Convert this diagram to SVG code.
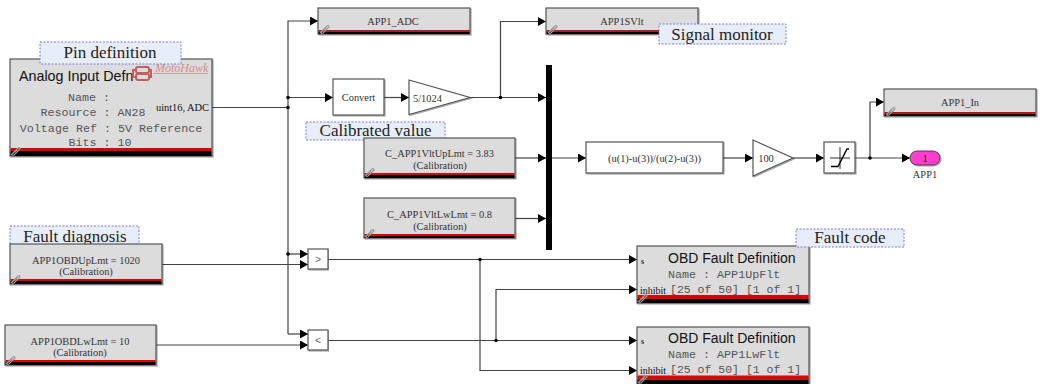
<svg xmlns="http://www.w3.org/2000/svg" width="1042" height="384" viewBox="0 0 1042 384">
<style>
.w{fill:#fff;stroke:#555;stroke-width:1.2;filter:url(#sh)}
.g{fill:#dcdcdc;stroke:#555;stroke-width:1.2;filter:url(#sh)}
.r{fill:#e00000}.k{fill:#000}
.lab{fill:#e8eef9;stroke:#7a7aee;stroke-width:1;stroke-dasharray:2 1.5}
.t{font-family:"Liberation Serif",serif;fill:#333;font-size:10.400px;text-anchor:middle}
.n{font-family:"Liberation Serif",serif;fill:#222;font-size:17px;text-anchor:middle}
.m{font-family:"Liberation Mono",monospace;fill:#555;font-size:11.700px;text-anchor:middle}
.s{font-family:"Liberation Sans",sans-serif;fill:#111}
.ln{fill:none;stroke:#444;stroke-width:1.200;marker-end:url(#a)}
.pl{fill:none;stroke:#444;stroke-width:1.200}
.d{fill:#000}
.clip{fill:none;stroke:#999;stroke-width:1.200}
</style>
<defs>
<filter id="sh" x="-5%" y="-10%" width="110%" height="125%"><feDropShadow dx="1" dy="1" stdDeviation="0.7" flood-color="#000" flood-opacity="0.35"/></filter>
<marker id="a" markerUnits="userSpaceOnUse" markerWidth="9" markerHeight="10" refX="8" refY="4.5" orient="auto"><path d="M0 0L8 4.5L0 9Z" fill="#000"/></marker>
<g id="clip"><path class="clip" d="M1 9L8 2Q10 1 10 3L4 9Q2 10 2 8L7 4"/></g>
</defs>

<g id="connectors">
<path class="pl" d="M212 107.500H288"/>
<path class="ln" d="M288 334V21H318"/>
<path class="ln" d="M288 97.500H333"/>
<path class="ln" d="M288 254H308"/>
<path class="ln" d="M288 334H308"/>
<path class="ln" d="M162 264.500H308"/>
<path class="ln" d="M156 345H308"/>
<path class="ln" d="M384 97.500H409"/>
<path class="ln" d="M470 97.500H546"/>
<path class="ln" d="M500.500 97.500V21.500H546"/>
<path class="ln" d="M515 158H546"/>
<path class="ln" d="M515 218.500H546"/>
<path class="ln" d="M551 158H586"/>
<path class="ln" d="M723 158H753"/>
<path class="ln" d="M793 158H824"/>
<path class="ln" d="M855 158H910"/>
<path class="ln" d="M870 158V102H884"/>
<path class="ln" d="M328 259.500H637"/>
<path class="ln" d="M328 340.500H637"/>
<path class="ln" d="M496 340.500V289.500H637"/>
<path class="ln" d="M480 259.500V370.500H637"/>
<circle class="d" cx="288" cy="97.500" r="1.800"/>
<circle class="d" cx="288" cy="107.500" r="1.800"/>
<circle class="d" cx="288" cy="254" r="1.800"/>
<circle class="d" cx="500.500" cy="97.500" r="1.800"/>
<circle class="d" cx="870" cy="158" r="1.800"/>
<circle class="d" cx="480" cy="259.500" r="1.800"/>
<circle class="d" cx="496" cy="340.500" r="1.800"/>
</g>

<g id="analog-input">
<rect class="g" x="10" y="59" width="202" height="97"/>
<rect class="r" x="10.500" y="148" width="201" height="3"/><rect class="k" x="10.500" y="151" width="201" height="5"/>
<use href="#clip" x="10" y="146"/>
<text class="s" x="19" y="81" font-size="14.300">Analog Input Defn</text>
<g fill="none" stroke="#c06060" stroke-width="2"><rect x="136" y="67" width="13" height="6" rx="2"/><rect x="136" y="74" width="13" height="6" rx="2"/><path d="M136 70h-3v7h3M149 70h2v7h-2"/></g>
<text x="155" y="72" font-family="Liberation Serif,serif" font-style="italic" font-size="12" fill="#d09090">MotoHawk</text>
<path d="M153 73.500H208" stroke="#d09090" stroke-width="0.800"/>
<text class="m" x="89" y="101">Name :</text>
<text class="m" x="93" y="116">Resource : AN28</text>
<text class="m" x="111" y="131.500">Voltage Ref : 5V Reference</text>
<text class="m" x="100" y="146">Bits : 10</text>
<text class="t" x="182.500" y="111" style="fill:#111">uint16, ADC</text>
</g>

<g id="note-pin"><rect class="lab" x="40" y="42" width="141" height="22"/><text class="n" x="110" y="58">Pin definition</text></g>

<g id="app1-adc">
<rect class="g" x="318" y="8" width="152" height="26"/>
<rect class="r" x="318.500" y="30" width="151" height="1.500"/><rect class="k" x="318.500" y="31.500" width="151" height="2.500"/>
<use href="#clip" x="319" y="24"/>
<text class="t" x="393" y="25">APP1_ADC</text>
</g>

<g id="app1-svlt">
<rect class="g" x="546" y="8" width="152" height="26"/>
<rect class="r" x="546.500" y="30" width="151" height="1.500"/><rect class="k" x="546.500" y="31.500" width="151" height="2.500"/>
<use href="#clip" x="547" y="24"/>
<text class="t" x="622" y="25">APP1SVlt</text>
</g>
<g id="note-monitor"><rect class="lab" x="659" y="24" width="127" height="20"/><text class="n" x="722" y="39.500">Signal monitor</text></g>

<g id="convert"><rect class="w" x="333" y="79" width="51" height="36"/><text class="t" x="358.500" y="101">Convert</text></g>
<g id="gain-5-1024"><path class="w" d="M409 80L470 97.500L409 114.500Z"/><text class="t" x="413" y="101.500" style="text-anchor:start">5/1024</text></g>
<g id="mux"><rect class="k" x="546" y="65" width="6" height="185"/></g>

<g id="note-calibrated"><rect class="lab" x="306" y="122" width="139" height="18"/><text class="n" x="375.500" y="136">Calibrated value</text></g>

<g id="cal-up">
<rect class="g" x="364" y="138" width="151" height="40"/>
<rect class="r" x="364.500" y="173" width="150" height="2"/><rect class="k" x="364.500" y="175" width="150" height="3"/>
<use href="#clip" x="364" y="167"/>
<text class="t" x="439.500" y="157">C_APP1VltUpLmt = 3.83</text>
<text class="t" x="440" y="169">(Calibration)</text>
</g>
<g id="cal-low">
<rect class="g" x="364" y="198" width="151" height="40"/>
<rect class="r" x="364.500" y="234" width="150" height="2"/><rect class="k" x="364.500" y="236" width="150" height="2"/>
<use href="#clip" x="364" y="228"/>
<text class="t" x="439.500" y="218">C_APP1VltLwLmt = 0.8</text>
<text class="t" x="440" y="230">(Calibration)</text>
</g>

<g id="fcn"><rect class="w" x="586" y="142" width="137" height="31"/><text class="t" x="654.500" y="162">(u(1)-u(3))/(u(2)-u(3))</text></g>
<g id="gain-100"><path class="w" d="M753 140L793 158L753 176Z"/><text class="t" x="766" y="162">100</text></g>
<g id="saturation"><rect class="w" x="824" y="142" width="31" height="31"/><path d="M830 158H850M840 147V169" fill="none" stroke="#000" stroke-width="0.800"/><path d="M831 166.500H838L847 149H849" fill="none" stroke="#000" stroke-width="1.400"/></g>

<g id="app1-in">
<rect class="g" x="884" y="89" width="152" height="27"/>
<rect class="r" x="884.500" y="112" width="151" height="1.500"/><rect class="k" x="884.500" y="113.500" width="151" height="2.500"/>
<use href="#clip" x="885" y="106"/>
<text class="t" x="960" y="106">APP1_In</text>
</g>

<g id="outport-app1">
<rect x="910" y="151" width="30" height="14" rx="7" fill="#ff3ccf" stroke="#444" stroke-width="1" filter="url(#sh)"/>
<text class="t" x="925" y="162" style="fill:#222">1</text>
<text class="t" x="925" y="178">APP1</text>
</g>

<g id="note-fault"><rect class="lab" x="10" y="226" width="129" height="20"/><text class="n" x="75" y="241.500">Fault diagnosis</text></g>
<g id="obd-up-lmt">
<rect class="g" x="10" y="244" width="152" height="40"/>
<rect class="r" x="10.500" y="279" width="151" height="2"/><rect class="k" x="10.500" y="281" width="151" height="3"/>
<use href="#clip" x="10" y="274"/>
<text class="t" x="86" y="264">APP1OBDUpLmt = 1020</text>
<text class="t" x="86" y="275">(Calibration)</text>
</g>
<g id="obd-low-lmt">
<rect class="g" x="5" y="325" width="151" height="40"/>
<rect class="r" x="5.500" y="360" width="150" height="2"/><rect class="k" x="5.500" y="362" width="150" height="3"/>
<use href="#clip" x="5" y="355"/>
<text class="t" x="80" y="345">APP1OBDLwLmt = 10</text>
<text class="t" x="80" y="356">(Calibration)</text>
</g>

<g id="cmp-gt"><rect class="w" x="308" y="249" width="20" height="20"/><text class="t" x="318" y="263" style="font-family:'Liberation Sans',sans-serif;fill:#666">&gt;</text></g>
<g id="cmp-lt"><rect class="w" x="308" y="330" width="20" height="20"/><text class="t" x="318" y="344" style="font-family:'Liberation Sans',sans-serif;fill:#666">&lt;</text></g>

<g id="fault-up">
<rect class="g" x="637" y="246" width="172" height="57"/>
<rect class="r" x="637.500" y="295" width="171" height="4"/><rect class="k" x="637.500" y="299" width="171" height="4"/>
<use href="#clip" x="637" y="293"/>
<text class="t" x="641" y="264" style="font-size:8px;text-anchor:start;font-weight:bold">s</text>
<text class="t" x="640" y="294" style="text-anchor:start;font-size:10px;fill:#111">inhibit</text>
<text class="s" x="668" y="263" font-size="14">OBD Fault Definition</text>
<text class="m" x="668" y="278" style="text-anchor:start">Name : APP1UpFlt</text>
<text class="m" x="670" y="293" style="text-anchor:start;font-size:11.500px">[25 of 50] [1 of 1]</text>
</g>
<g id="fault-low">
<rect class="g" x="637" y="327" width="172" height="57"/>
<rect class="r" x="637.500" y="375.500" width="171" height="4"/><rect class="k" x="637.500" y="379.500" width="171" height="4.500"/>
<use href="#clip" x="637" y="374"/>
<text class="t" x="641" y="344" style="font-size:8px;text-anchor:start;font-weight:bold">s</text>
<text class="t" x="640" y="374" style="text-anchor:start;font-size:10px;fill:#111">inhibit</text>
<text class="s" x="668" y="343" font-size="14">OBD Fault Definition</text>
<text class="m" x="668" y="358" style="text-anchor:start">Name : APP1LwFlt</text>
<text class="m" x="670" y="373" style="text-anchor:start;font-size:11.500px">[25 of 50] [1 of 1]</text>
</g>
<g id="note-code"><rect class="lab" x="796" y="229" width="108" height="18"/><text class="n" x="850" y="243">Fault code</text></g>
</svg>
